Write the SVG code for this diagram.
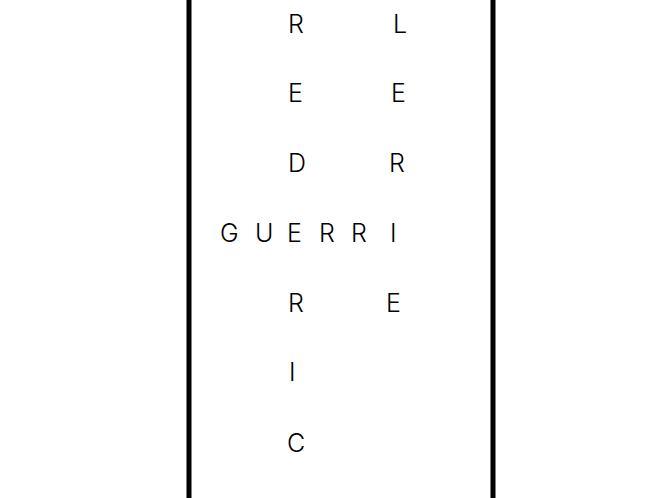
<svg xmlns="http://www.w3.org/2000/svg" width="667" height="498" viewBox="0 0 667 498">
<style>
.t{font-family:Inter,"Noto Sans",sans-serif;font-size:25px;font-weight:300;fill:#000}
.bar{stroke:#000;stroke-width:5}
</style>
<rect width="667" height="498" fill="#fff"/>
<g id="frame">
<line class="bar" x1="189" y1="0" x2="189" y2="498"/>
<line class="bar" x1="493" y1="0" x2="493" y2="498"/>
</g>
<g id="redric">
<text class="t" x="288" y="33">R</text>
<text class="t" x="288" y="102">E</text>
<text class="t" x="288" y="172">D</text>
<text class="t" x="288" y="312">R</text>
<text class="t" x="289" y="381">I</text>
<text class="t" x="287" y="452">C</text>
</g>
<g id="lerie">
<text class="t" x="393" y="33">L</text>
<text class="t" x="391" y="102">E</text>
<text class="t" x="389" y="172">R</text>
<text class="t" x="386" y="312">E</text>
</g>
<g id="guerri">
<text class="t" x="220 255 287 319 351 390" y="242">GUERRI</text>
</g>
</svg>
